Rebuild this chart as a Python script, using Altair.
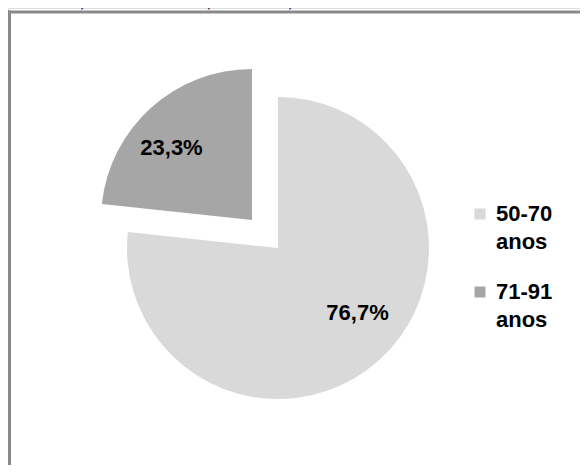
import altair as alt
import pandas as pd

# ---- data ----
faixas = ["50-70 anos", "71-91 anos"]
percentuais = [76.7, 23.3]
rotulos = ["76,7%", "23,3%"]
cores = ["#d9d9d9", "#a6a6a6"]
subtitulo = "de 2013, João Pessoa, Paraíba, Brasil."

df = pd.DataFrame({"faixa": faixas, "valor": percentuais, "rotulo": rotulos})
um = pd.DataFrame({"t": [subtitulo]})

W, H = 572, 457
FONT = "Liberation Sans"
BORDA = "#8a8a8a"

color = alt.Color(
    "faixa:N",
    scale=alt.Scale(domain=faixas, range=cores),
    legend=alt.Legend(
        title=None, orient="none", legendX=461, legendY=195, padding=0,
        symbolType="square", symbolSize=121, symbolStrokeWidth=0,
        labelFont=FONT, labelFontSize=22, labelFontWeight="bold",
        labelColor="black", labelLimit=300, labelOffset=5,
        labelExpr="split(datum.label, ' ')", rowPadding=28,
    ),
)
theta = alt.Theta("valor:Q", stack=True)


def fatia(nome, cx, cy, dx, dy):
    sel = f"datum.faixa === '{nome}'"
    op = alt.condition(sel, alt.value(1), alt.value(0))
    arc = alt.Chart(df).mark_arc(outerRadius=151).encode(
        theta=theta, color=color, order=alt.Order("faixa:N"),
        x=alt.value(cx), y=alt.value(cy), opacity=op,
    )
    txt = alt.Chart(df).mark_text(
        radius=104, font=FONT, fontSize=22, fontWeight="bold",
        color="black", dx=dx, dy=dy,
    ).encode(
        theta=theta, detail="faixa:N", order=alt.Order("faixa:N"),
        text="rotulo:N", x=alt.value(cx), y=alt.value(cy), opacity=op,
    )
    return arc, txt


a1, t1 = fatia("50-70 anos", 270, 240, 10, -12)
a2, t2 = fatia("71-91 anos", 244, 212, -11, 5)

borda_sup = alt.Chart(um).mark_rule(color=BORDA, strokeWidth=3).encode(
    x=alt.value(0), x2=alt.value(W), y=alt.value(4)
)
borda_esq = alt.Chart(um).mark_rule(color=BORDA, strokeWidth=3).encode(
    x=alt.value(1.5), y=alt.value(2.5), y2=alt.value(H)
)
titulo = alt.Chart(um).mark_text(
    font=FONT, fontSize=20, color="black", align="left", baseline="alphabetic"
).encode(text="t:N", x=alt.value(-1), y=alt.value(-1))

chart = alt.layer(a1, a2, t1, t2, borda_sup, borda_esq, titulo).properties(
    width=W, height=H, padding=0,
    autosize=alt.AutoSizeParams(type="none"),
    background="white",
).configure_view(strokeWidth=0).configure(style={"guide-label": {"lineHeight": 28}})

chart.save("out.html", embed_options={"renderer": "svg", "actions": False})
